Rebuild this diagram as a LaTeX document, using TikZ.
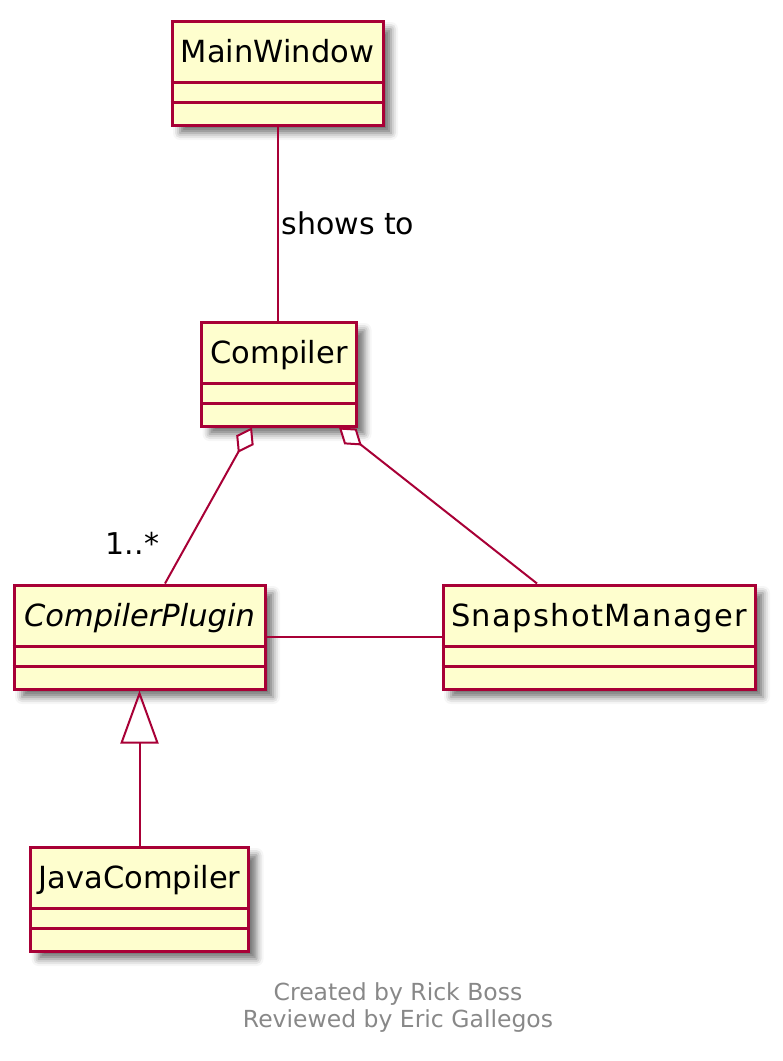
\documentclass[tikz,border=0pt]{standalone}
\usepackage{fontspec}
\setmainfont{DejaVu Sans}
\usepackage{tikz}
\usetikzlibrary{positioning,arrows.meta,shadows,shadows.blur,calc}
\definecolor{umlborder}{RGB}{168,0,54}
\definecolor{umlfill}{RGB}{254,254,206}
\definecolor{footcol}{RGB}{136,136,136}

\begin{document}
\begin{tikzpicture}[x=1pt, y=-1pt,
  cls/.style={rectangle, draw=umlborder, fill=umlfill, line width=3pt,
              inner sep=0pt, minimum width=#1, text height=41pt, text depth=63pt,
              font=\fontsize{30.5}{36}\selectfont,
              blur shadow={shadow xshift=8pt, shadow yshift=-8pt,
                           shadow blur radius=7pt, shadow opacity=55}},
  cmp/.style={draw=umlborder, line width=2.8pt},
  rel/.style={draw=umlborder, line width=2pt},
  aggr/.style={rel, {Diamond[open, fill=white, length=29pt, width=20pt]}-},
  inh/.style={rel, -{Triangle[open, length=53pt, width=38pt]}},
  lbl/.style={font=\fontsize{30}{36}\selectfont, inner sep=3pt},
]
\useasboundingbox (0,0) rectangle (783,1061);

\node[cls=211pt] (mw)   at (277.5, 73)  {MainWindow};
\node[cls=155pt] (comp) at (279, 374)   {Compiler};
\node[cls=251pt] (plug) at (139.5, 637) {\itshape CompilerPlugin};
\node[cls=312pt] (snap) at (599, 637)   {\addfontfeature{LetterSpace=4.5}SnapshotManager};
\node[cls=218pt] (jc)   at (139.5, 899) {JavaCompiler};

% attribute and method compartments
\foreach \c in {mw,comp,plug,snap,jc} {
  \draw[cmp] ([yshift=-63pt]\c.north west) -- ([yshift=-63pt]\c.north east);
  \draw[cmp] ([yshift=-83pt]\c.north west) -- ([yshift=-83pt]\c.north east);
}

\draw[rel] (mw.south) -- node[lbl, pos=0.5, anchor=west] {shows to} (mw.south |- comp.north);
\draw[aggr] ([xshift=-27pt]comp.south) -- ([xshift=25.5pt]plug.north)
  node[lbl, anchor=base east, inner sep=0pt, xshift=-5pt, yshift=29pt] {1..*};
\draw[aggr] ([xshift=60pt]comp.south) -- ([xshift=-62pt]snap.north);
\draw[rel] (plug.east) -- (snap.west);
\draw[inh] (jc.north) -- (plug.south);

\node[text=footcol, align=center, font=\fontsize{23.5}{27}\selectfont] (foot)
  at (398, 1008) {Created by Rick Boss\\Reviewed by Eric Gallegos};
\end{tikzpicture}
\end{document}
